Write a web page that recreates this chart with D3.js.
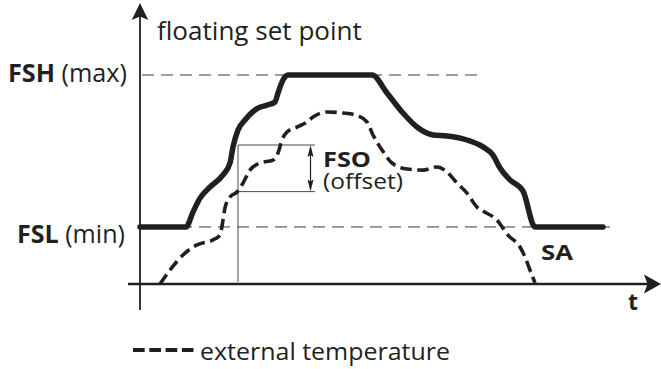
<!DOCTYPE html>
<html><head><meta charset="utf-8">
<script src="https://cdn.jsdelivr.net/npm/d3@7"></script>
<style>body{margin:0;background:#fff}svg{display:block}</style>
</head><body>
<svg id="c" width="661" height="369"></svg>
<script>
// ---- data (time units 0..100, value units: 0 = time axis, 100 = FSH) ----
const setpointT = [0,9.2,10.6,12,14,16.6,18,18.6,19.6,21,23.6,25.4,27,27.6,28.6,29.6,46.4,49.4,52.6,55.4,58.6,61.4,65.4,68.6,70.6,72,74,76.6,79,92.6];
const setpointV = [27.3,27.3,34.4,41.1,46.4,52.2,57.9,65.6,73.7,78.5,84.2,85.6,87.1,91.4,97.6,100,100,91.4,81.8,75.1,71.3,70.8,68.9,65.6,61.7,55.5,49.8,44.5,27.3,27.3];
const externalT = [4,6,9,11.4,14.6,16,16.6,17,18,19.4,20.6,22,24,26.6,27.6,28.4,29.4,31.4,33.4,34.6,37.4,40.6,43,45.4,46.6,48.4,50.4,53.4,56.6,59.4,61.4,63.4,65.4,67.4,68.6,71.4,73.6,76,77,78,79];
const externalV = [0,6.7,14.8,18.7,21.1,23.4,30.6,36.4,41.6,44,48.3,54.5,57.9,59.3,62.7,68.9,72.7,75.1,77.5,79.9,82.3,81.8,80.9,77.5,71.3,64.1,57.9,55,54.5,56,53.6,48.3,43.5,36.8,34.9,30.6,23.4,17.7,12.9,6.7,0.5];
const levelNames = ["FSH", "FSL"];
const levelNotes = ["(max)", "(min)"];
const levelValues = [100, 27.3];
const levelGuideEnd = [67.4, 95.4];
const offsetT = [19.6, 35];      // vertical guide time, right end of bracket
const offsetV = [44.2, 66.5];    // bottom, top of FSO bracket
const offsetArrowT = 34.1;

const svg = d3.select("#c");
const ink = "#231f20";
const font = "'Open Sans', 'Noto Sans', sans-serif";
const x = d3.scaleLinear().domain([0, 100]).range([140, 640]);
const y = d3.scaleLinear().domain([0, 100]).range([284, 75]);

// level guide lines
levelValues.forEach((v, i) => {
  svg.append("line")
    .attr("x1", x(0.4)).attr("x2", x(levelGuideEnd[i]))
    .attr("y1", y(v)).attr("y2", y(v))
    .attr("stroke", "#3a3a3a").attr("stroke-width", 1)
    .attr("stroke-dasharray", "12,7");
});

// offset bracket (thin lines)
const thin = "#4a4a4a";
svg.append("line").attr("x1", x(offsetT[0])).attr("x2", x(offsetT[0]))
  .attr("y1", y(offsetV[1])).attr("y2", y(0) - 2).attr("stroke", thin).attr("stroke-width", 1);
offsetV.forEach(v => {
  svg.append("line").attr("x1", x(offsetT[0])).attr("x2", x(offsetT[1]))
    .attr("y1", y(v)).attr("y2", y(v)).attr("stroke", thin).attr("stroke-width", 1);
});
// double arrow
const ax = x(offsetArrowT), aTop = y(offsetV[1]), aBot = y(offsetV[0]);
svg.append("line").attr("x1", ax).attr("x2", ax).attr("y1", aTop + 6).attr("y2", aBot - 6)
  .attr("stroke", ink).attr("stroke-width", 1.2);
svg.append("path").attr("d", `M${ax},${aTop} L${ax-3},${aTop+12} L${ax},${aTop+10} L${ax+3},${aTop+12} Z`).attr("fill", ink);
svg.append("path").attr("d", `M${ax},${aBot} L${ax-3},${aBot-12} L${ax},${aBot-10} L${ax+3},${aBot-12} Z`).attr("fill", ink);

// axes
svg.append("line").attr("x1", x(-2.4)).attr("x2", x(103)).attr("y1", y(0)).attr("y2", y(0))
  .attr("stroke", ink).attr("stroke-width", 2.3);
svg.append("line").attr("x1", x(0)).attr("x2", x(0)).attr("y1", y(-12.4)).attr("y2", y(130))
  .attr("stroke", ink).attr("stroke-width", 1.8);
const yt = y(134.5), xt = 661;
svg.append("path").attr("d", `M${x(0)},${yt} L${x(0)-8.3},${yt+17} L${x(0)},${yt+13.5} L${x(0)+8.3},${yt+17} Z`).attr("fill", ink);
svg.append("path").attr("d", `M${xt},${y(0)} L${xt-17},${y(0)-9.5} L${xt-13.5},${y(0)} L${xt-17},${y(0)+9.5} Z`).attr("fill", ink);

// series
const line = d3.line().x(d => x(d[0])).y(d => y(d[1])).curve(d3.curveMonotoneX);
svg.append("path").datum(externalT.map((t, i) => [t, externalV[i]]))
  .attr("d", line).attr("fill", "none").attr("stroke", ink)
  .attr("stroke-width", 3.6).attr("stroke-dasharray", "11.5,5.5");
svg.append("path").datum(setpointT.map((t, i) => [t, setpointV[i]]))
  .attr("d", line).attr("fill", "none").attr("stroke", ink)
  .attr("stroke-width", 5.5).attr("stroke-linecap", "round").attr("stroke-linejoin", "round");

// text helper: font size sets the height, horizontal scale fits the width
function label(parts, x0, base, width, fs) {
  const t = svg.append("text").attr("x", 0).attr("y", 0)
    .attr("font-family", font).attr("font-size", fs).attr("fill", ink);
  parts.forEach(p => t.append("tspan").attr("font-weight", p[1] ? 700 : 400).text(p[0]));
  const w = t.node().getComputedTextLength();
  t.attr("transform", `translate(${x0},${base}) scale(${width / w},1)`);
  return t;
}

label([["floating set point", 0]], 157, 40, 205, 25);
label([[levelNames[0], 1], [" " + levelNotes[0], 0]], 8, 82, 119, 25);
label([[levelNames[1], 1], [" " + levelNotes[1], 0]], 17, 243, 108, 25);
label([["FSO", 1]], 323, 167, 48, 21.5);
label([["(offset)", 0]], 323, 188.5, 80, 21.5);
label([["SA", 1]], 541, 260, 32, 22);
label([["t", 1]], 628, 310, 10, 23);

// legend
svg.append("line").attr("x1", 133).attr("x2", 193.5).attr("y1", 350).attr("y2", 350)
  .attr("stroke", ink).attr("stroke-width", 4).attr("stroke-dasharray", "11.7,4.6");
label([["external temperature", 0]], 200, 360, 250, 23);
</script>
</body></html>
